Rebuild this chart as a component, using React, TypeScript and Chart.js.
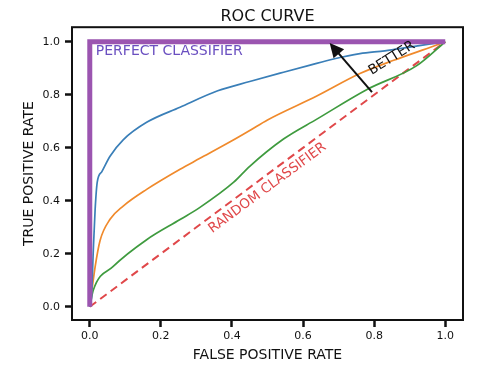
import React, { useEffect, useRef } from "react";
import { Chart, registerables } from "chart.js";

Chart.register(...registerables);

const FONT = "'DejaVu Sans', sans-serif";

const tickValues = [0, 0.2, 0.4, 0.6, 0.8, 1.0];

const perfectX = [0, 0, 1];
const perfectY = [0, 1, 1];

const blueX = [0, 0.005, 0.01, 0.015, 0.021, 0.034, 0.057, 0.094, 0.16, 0.254, 0.36, 0.45, 0.545, 0.62, 0.686, 0.76, 0.83, 0.9, 1.0];
const blueY = [0, 0.04, 0.215, 0.365, 0.47, 0.51, 0.568, 0.63, 0.696, 0.753, 0.815, 0.85, 0.885, 0.912, 0.935, 0.955, 0.966, 0.98, 1.0];

const orangeX = [0, 0.015, 0.029, 0.057, 0.094, 0.16, 0.254, 0.31, 0.405, 0.45, 0.5, 0.64, 0.76, 0.855, 0.97, 1.0];
const orangeY = [0, 0.15, 0.25, 0.33, 0.38, 0.443, 0.519, 0.56, 0.63, 0.665, 0.705, 0.796, 0.88, 0.93, 0.985, 1.0];

const greenX = [0, 0.01, 0.066, 0.16, 0.254, 0.31, 0.405, 0.45, 0.545, 0.64, 0.78, 0.92, 1.0];
const greenY = [0, 0.063, 0.152, 0.253, 0.329, 0.375, 0.47, 0.53, 0.633, 0.709, 0.82, 0.91, 1.0];

const randomX = [0, 1];
const randomY = [0, 1];

const zip = (xs: number[], ys: number[]) => xs.map((v, i) => ({ x: v, y: ys[i] }));

const annotPlugin = {
  id: "annot",
  afterDatasetsDraw(chart: any) {
    const { ctx, chartArea, scales } = chart;
    const xs = scales.x;
    const ys = scales.y;
    const px = (v: number) => xs.getPixelForValue(v);
    const py = (v: number) => ys.getPixelForValue(v);
    ctx.save();
    // frame
    ctx.strokeStyle = "#111";
    ctx.lineWidth = 2;
    ctx.strokeRect(chartArea.left, chartArea.top, chartArea.right - chartArea.left, chartArea.bottom - chartArea.top);

    // perfect classifier label
    ctx.font = `14px ${FONT}`;
    ctx.fillStyle = "#6a4fc0";
    ctx.textAlign = "left";
    ctx.textBaseline = "middle";
    ctx.fillText("PERFECT CLASSIFIER", px(0.017), py(0.962));

    // random classifier label
    ctx.font = `13.5px ${FONT}`;
    ctx.save();
    ctx.translate(px(0.5), py(0.448));
    ctx.rotate((-36.5 * Math.PI) / 180);
    ctx.fillStyle = "#e0484a";
    ctx.textAlign = "center";
    ctx.fillText("RANDOM CLASSIFIER", 0, 0);
    ctx.restore();

    // better label
    ctx.save();
    ctx.translate(px(0.85), py(0.938));
    ctx.rotate((-32 * Math.PI) / 180);
    ctx.fillStyle = "#111";
    ctx.textAlign = "center";
    ctx.fillText("BETTER", 0, 0);
    ctx.restore();

    // arrow
    const x1 = px(0.794), y1 = py(0.81), x2 = px(0.675), y2 = py(0.995);
    const ang = Math.atan2(y2 - y1, x2 - x1);
    ctx.strokeStyle = "#111";
    ctx.lineWidth = 2;
    ctx.beginPath();
    ctx.moveTo(x1, y1);
    ctx.lineTo(x2 - 8 * Math.cos(ang), y2 - 8 * Math.sin(ang));
    ctx.stroke();
    const L = 14, W = 7;
    ctx.fillStyle = "#111";
    ctx.beginPath();
    ctx.moveTo(x2, y2);
    ctx.lineTo(x2 - L * Math.cos(ang) + W * Math.sin(ang), y2 - L * Math.sin(ang) - W * Math.cos(ang));
    ctx.lineTo(x2 - L * Math.cos(ang) - W * Math.sin(ang), y2 - L * Math.sin(ang) + W * Math.cos(ang));
    ctx.closePath();
    ctx.fill();
    ctx.restore();
  },
};

export default function App() {
  const ref = useRef<HTMLCanvasElement>(null);
  useEffect(() => {
    if (!ref.current) return;
    const tickOpts = {
      color: "#111",
      font: { family: FONT, size: 11 },
      callback: (v: any) => Number(v).toFixed(1),
    };
    const gridOpts = {
      display: true,
      drawOnChartArea: false,
      drawTicks: true,
      tickLength: 7,
      tickWidth: 2.5,
      tickColor: "#111",
    };
    const line = { showLine: true, pointRadius: 0, cubicInterpolationMode: "monotone" as any };
    const chart = new Chart(ref.current, {
      type: "scatter",
      data: {
        datasets: [
          { data: zip(blueX, blueY), borderColor: "#3a7fb8", borderWidth: 1.7, order: 2, ...line },
          { data: zip(orangeX, orangeY), borderColor: "#f08a2c", borderWidth: 1.7, order: 3, ...line },
          { data: zip(greenX, greenY), borderColor: "#3f9b3f", borderWidth: 1.7, order: 4, ...line },
          { data: zip(randomX, randomY), borderColor: "#e0484a", borderWidth: 2, borderDash: [8, 5], order: 5, showLine: true, pointRadius: 0 },
          { data: zip(perfectX, perfectY), borderColor: "#9b55b0", borderWidth: 5, order: 1, showLine: true, pointRadius: 0, borderJoinStyle: "miter" as any },
        ],
      },
      options: {
        animation: false,
        responsive: false,
        layout: { padding: { top: 0, right: 37, left: 0, bottom: 0 } },
        plugins: {
          legend: { display: false },
          tooltip: { enabled: false },
          title: {
            display: true,
            text: "ROC CURVE",
            fullSize: false,
            color: "#111",
            font: { family: FONT, size: 16, weight: "normal" },
            padding: { top: 7, bottom: 1 },
          },
        },
        scales: {
          x: {
            type: "linear",
            min: -0.05,
            max: 1.05,
            grid: gridOpts,
            border: { display: false },
            ticks: { ...tickOpts, padding: 3, maxRotation: 0 },
            afterBuildTicks: (s: any) => { s.ticks = tickValues.map((v) => ({ value: v })); },
            afterFit: (s: any) => { s.height = 53; },
            title: {
              display: true,
              text: "FALSE POSITIVE RATE",
              color: "#111",
              font: { family: FONT, size: 14 },
              padding: { top: 0, bottom: 9 },
            },
          },
          y: {
            type: "linear",
            min: -0.05,
            max: 1.055,
            grid: gridOpts,
            border: { display: false },
            ticks: { ...tickOpts, padding: 5 },
            afterBuildTicks: (s: any) => { s.ticks = tickValues.map((v) => ({ value: v })); },
            afterFit: (s: any) => { s.width = 72; },
            title: {
              display: true,
              text: "TRUE POSITIVE RATE",
              color: "#111",
              font: { family: FONT, size: 14 },
              padding: { top: 21, bottom: 0 },
            },
          },
        },
      },
      plugins: [annotPlugin],
    });
    return () => chart.destroy();
  }, []);
  return (
    <div style={{ position: "fixed", left: 0, top: 0, width: 500, height: 373, background: "#fff" }}>
      <canvas ref={ref} width={500} height={373} />
    </div>
  );
}
